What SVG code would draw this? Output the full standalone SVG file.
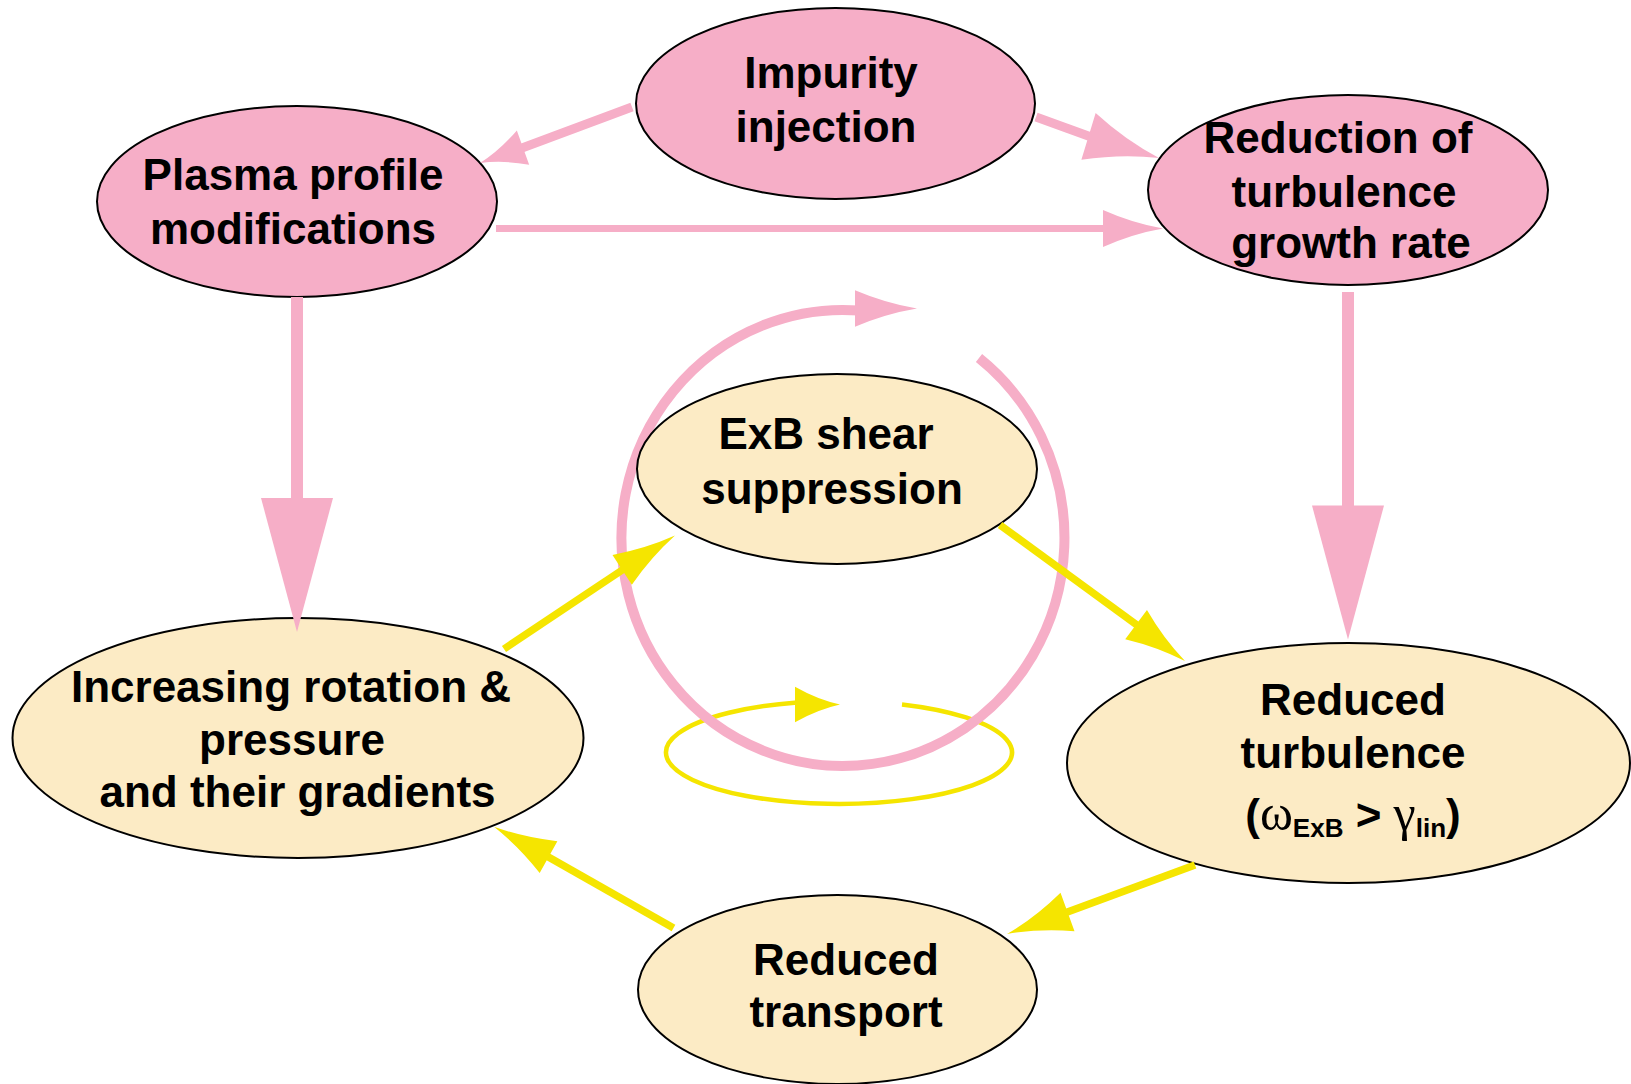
<svg xmlns="http://www.w3.org/2000/svg" xmlns:xlink="http://www.w3.org/1999/xlink" width="1631" height="1084" viewBox="0 0 1631 1084">
<style>
.pk{fill:#F6AEC7;stroke:#000;stroke-width:2}
.cr{fill:#FCEBC5;stroke:#000;stroke-width:2}
.t{font-family:"Liberation Sans",Arial,sans-serif;font-weight:bold;font-size:44px;fill:#000;text-anchor:middle}
.g{font-family:"Liberation Serif","Times New Roman",serif;font-weight:normal;font-size:50px}
.s{font-size:26px}
.lp{fill:none;stroke:#F6AEC7}
.ly{fill:none;stroke:#F5E500}
.hp{fill:#F6AEC7}
.hy{fill:#F5E500}
</style>
<defs>
<path id="ah" d="M0,0 Q-0.5,-0.14 -1,-0.5 L-1,0.5 Q-0.5,0.14 0,0 Z"/>
<path id="as" d="M0,0 L-1,-0.5 L-1,0.5 Z"/>
</defs>
<rect width="1631" height="1084" fill="#fff"/>
<g id="cycle-loops">
<path class="ly" stroke-width="4.5" d="M902,704.5 A173,51.5 0 1 1 797,702.5"/>
<use href="#ah" class="hy" transform="translate(840,704.6) scale(45,35.5)"/>
<path class="lp" stroke-width="10" d="M979,358 A221.5,228 0 1 1 860,310.6"/>
<use href="#ah" class="hp" transform="translate(917,308.5) scale(62,36.5)"/>
</g>
<g id="node-impurity">
<ellipse class="pk" cx="835.5" cy="103.5" rx="199.5" ry="95.5"/>
<text class="t" x="831" y="88">Impurity</text>
<text class="t" x="826" y="142">injection</text>
</g>
<g id="node-plasma">
<ellipse class="pk" cx="297" cy="201.5" rx="200" ry="95.5"/>
<text class="t" x="293" y="190">Plasma profile</text>
<text class="t" x="293" y="244">modifications</text>
</g>
<g id="node-reduction">
<ellipse class="pk" cx="1348" cy="190" rx="200" ry="95"/>
<text class="t" x="1338" y="153">Reduction of</text>
<text class="t" x="1344" y="207">turbulence</text>
<text class="t" x="1351" y="258">growth rate</text>
</g>
<g id="node-exb">
<ellipse class="cr" cx="837" cy="469" rx="200" ry="95"/>
<text class="t" x="826" y="449">ExB shear</text>
<text class="t" x="832" y="504">suppression</text>
</g>
<g id="node-increasing">
<ellipse class="cr" cx="298" cy="738" rx="285.5" ry="120"/>
<text class="t" x="291" y="702">Increasing rotation &amp;</text>
<text class="t" x="292" y="755">pressure</text>
<text class="t" x="297.5" y="807">and their gradients</text>
</g>
<g id="node-reduced-turbulence">
<ellipse class="cr" cx="1348.5" cy="763" rx="281.5" ry="120"/>
<text class="t" x="1353" y="715">Reduced</text>
<text class="t" x="1353" y="768">turbulence</text>
<text class="t" x="1353" y="830">(<tspan class="g">ω</tspan><tspan class="s" dy="7">ExB</tspan><tspan dy="-7"> &gt; </tspan><tspan class="g">γ</tspan><tspan class="s" dy="7">lin</tspan><tspan dy="-7">)</tspan></text>
</g>
<g id="node-reduced-transport">
<ellipse class="cr" cx="837.5" cy="989.5" rx="199.5" ry="94.5"/>
<text class="t" x="846" y="975">Reduced</text>
<text class="t" x="846" y="1027">transport</text>
</g>
<g id="connectors">
<line class="lp" stroke-width="9" x1="632" y1="107" x2="518" y2="149.5"/>
<use href="#ah" class="hp" transform="translate(480,163) rotate(160.2) scale(45.7,36.4)"/>
<line class="lp" stroke-width="9" x1="1036" y1="117" x2="1098" y2="139.5"/>
<use href="#ah" class="hp" transform="translate(1159,158) rotate(17) scale(73.7,48.8)"/>
<line class="lp" stroke-width="7" x1="496" y1="228.5" x2="1110" y2="228.5"/>
<use href="#ah" class="hp" transform="translate(1163,228.5) scale(60,37)"/>
<line class="lp" stroke-width="12" x1="297" y1="297" x2="297" y2="502"/>
<use href="#as" class="hp" transform="translate(297,632) rotate(90) scale(134,72)"/>
<line class="lp" stroke-width="12" x1="1348" y1="292" x2="1348" y2="508"/>
<use href="#as" class="hp" transform="translate(1348,639.5) rotate(90) scale(134,72)"/>
<line class="ly" stroke-width="7.5" x1="504" y1="649" x2="626" y2="567.5"/>
<use href="#ah" class="hy" transform="translate(675,535.5) rotate(-33) scale(63,35.5)"/>
<line class="ly" stroke-width="7.5" x1="1000" y1="525" x2="1141" y2="628"/>
<use href="#ah" class="hy" transform="translate(1185,661) rotate(36.7) scale(61,36.4)"/>
<line class="ly" stroke-width="7.5" x1="1195" y1="865" x2="1062" y2="914"/>
<use href="#ah" class="hy" transform="translate(1007,934) rotate(160) scale(64.4,40.9)"/>
<line class="ly" stroke-width="7.5" x1="673.5" y1="928" x2="544" y2="854.5"/>
<use href="#ah" class="hy" transform="translate(494,826.7) rotate(-150.9) scale(62.4,36.4)"/>
</g>
</svg>
